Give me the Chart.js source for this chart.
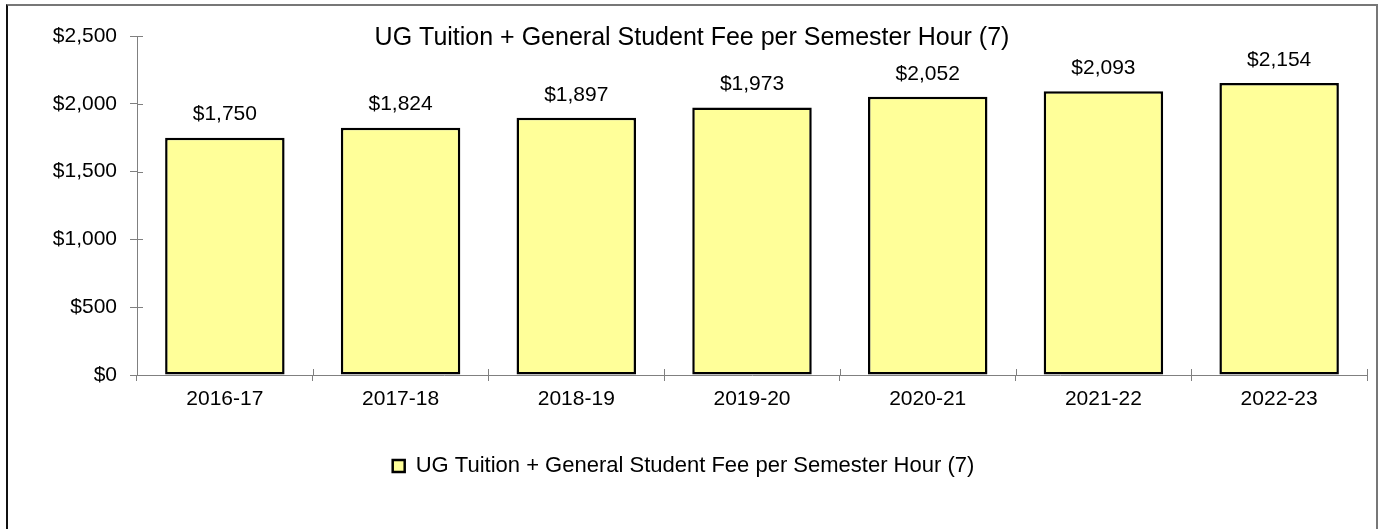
<!DOCTYPE html>
<html>
<head>
<meta charset="utf-8">
<script src="https://cdn.jsdelivr.net/npm/chart.js@4.4.1/dist/chart.umd.min.js"></script>
<style>
  body { margin: 0; background: #fff; }
  .wrap { position: relative; width: 1380px; height: 529px; overflow: hidden; }
  .frame {
    position: absolute; left: 6px; top: 4px; width: 1368px; height: 560px;
    border-left: 2px solid #111; border-top: 2px solid #777; border-right: 2px solid #777;
  }
  canvas { position: absolute; left: 0; top: 0; }
</style>
</head>
<body>
<div class="wrap">
  <div class="frame"></div>
  <canvas class="fee-chart" width="1380" height="529"></canvas>
</div>
<script>
const chartTitle = 'UG Tuition + General Student Fee per Semester Hour (7)';
const years = ['2016-17', '2017-18', '2018-19', '2019-20', '2020-21', '2021-22', '2022-23'];
const feePerHour = [1750, 1824, 1897, 1973, 2052, 2093, 2154];
const yMax = 2500;
const yStep = 500;

const FONT = 'Liberation Sans, Arial, sans-serif';
const AXIS_GRAY = '#808080';

function dollars (v) {
  return '$' + Number(v).toLocaleString('en-US');
}

// title sits inside the plot area, centred on the whole canvas
const titleInside = {
  id: 'titleInside',
  afterDraw (chart) {
    const ctx = chart.ctx;
    ctx.save();
    ctx.font = '25px ' + FONT;
    ctx.fillStyle = '#000';
    ctx.textAlign = 'center';
    ctx.textBaseline = 'middle';
    ctx.fillText(chartTitle, chart.width / 2 + 2, 38);
    ctx.restore();
  }
};

// value above each bar
const barValues = {
  id: 'barValues',
  afterDatasetsDraw (chart) {
    const ctx = chart.ctx;
    const meta = chart.getDatasetMeta(0);
    ctx.save();
    ctx.font = '21px ' + FONT;
    ctx.fillStyle = '#000';
    ctx.textAlign = 'center';
    ctx.textBaseline = 'middle';
    meta.data.forEach((bar, i) => {
      ctx.fillText(dollars(chart.data.datasets[0].data[i]), bar.x, bar.y - 23);
    });
    ctx.restore();
  }
};

// the inner half of the cross-shaped tick marks
const innerTicks = {
  id: 'innerTicks',
  afterDraw (chart) {
    const ctx = chart.ctx;
    const x = chart.scales.x;
    const y = chart.scales.y;
    ctx.save();
    ctx.strokeStyle = AXIS_GRAY;
    ctx.lineWidth = 1;
    ctx.beginPath();
    y.ticks.forEach((t, i) => {
      const py = Math.round(y.getPixelForTick(i)) + 0.5;
      ctx.moveTo(y.right, py);
      ctx.lineTo(y.right + 6, py);
    });
    const step = (x.right - x.left) / x.ticks.length;
    for (let k = 0; k <= x.ticks.length; k++) {
      const px = Math.round(x.left + k * step) + 0.5;
      ctx.moveTo(px, x.top);
      ctx.lineTo(px, x.top - 6);
    }
    ctx.stroke();
    ctx.restore();
  }
};

new Chart(document.querySelector('.fee-chart'), {
  type: 'bar',
  data: {
    labels: years,
    datasets: [{
      label: chartTitle,
      data: feePerHour,
      backgroundColor: '#FFFF99',
      borderColor: '#000',
      borderWidth: 2.5,
      borderSkipped: false,
      categoryPercentage: 1,
      barPercentage: 0.68
    }]
  },
  options: {
    responsive: false,
    animation: false,
    layout: { padding: { top: 36, right: 13, left: 0, bottom: 42 } },
    scales: {
      x: {
        grid: { display: true, drawOnChartArea: false, offset: true, color: AXIS_GRAY, tickLength: 6 },
        border: { color: AXIS_GRAY },
        ticks: { color: '#000', font: { family: FONT, size: 21 }, padding: 6 },
        afterFit (scale) { scale.height = 70; }
      },
      y: {
        min: 0,
        max: yMax,
        grid: { drawOnChartArea: false, color: AXIS_GRAY, tickLength: 7 },
        border: { color: AXIS_GRAY },
        ticks: {
          stepSize: yStep,
          color: '#000',
          font: { family: FONT, size: 21 },
          padding: 13,
          callback: v => dollars(v)
        },
        afterFit (scale) { scale.width = 137; }
      }
    },
    plugins: {
      title: { display: false },
      tooltip: { enabled: false },
      legend: {
        position: 'bottom',
        labels: {
          color: '#000',
          font: { family: FONT, size: 22 },
          boxWidth: 12,
          boxHeight: 12,
          padding: 10,
          generateLabels (chart) {
            return [{
              text: chartTitle,
              fillStyle: '#FFFF99',
              strokeStyle: '#000',
              lineWidth: 2.5,
              datasetIndex: 0
            }];
          }
        }
      }
    }
  },
  plugins: [titleInside, barValues, innerTicks]
});
</script>
</body>
</html>
